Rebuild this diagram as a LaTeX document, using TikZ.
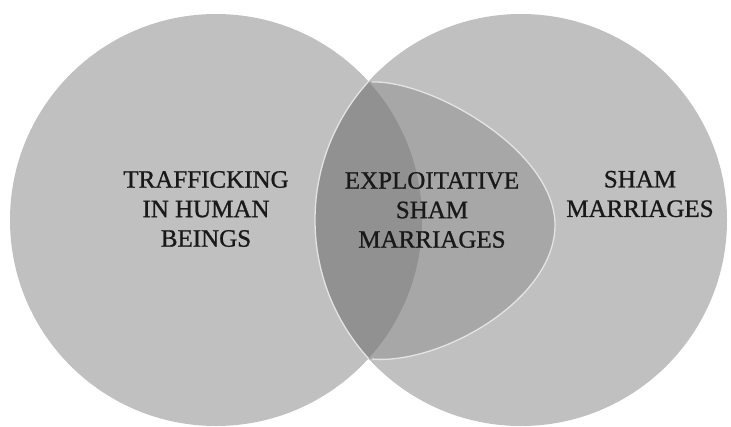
\documentclass[tikz,border=0pt]{standalone}
\usepackage{fontspec}
\setmainfont{Liberation Serif}[BoldFont=Liberation Serif, BoldFeatures={FakeBold=0.9}]
\usetikzlibrary{positioning}

% outline of the inner set (its left side is cut by the right circle)
\newcommand{\innerset}{(372,82) .. controls (430,80) and (555,150) .. (555,225)
	.. controls (555,300) and (440,365) .. (372,359) -- (300,359) -- (300,82) -- cycle}

\begin{document}
\begin{tikzpicture}[x=1pt, y=-1pt,
	setlabel/.style={align=center, text=textgrey, inner sep=0pt, font=\fontsize{25}{29.5}\selectfont\bfseries}]
					% Define grey shades for the sets
					\definecolor{setgrey}{RGB}{192,192,192}    % Light grey
					\definecolor{innergrey}{RGB}{167,167,167}  % Medium grey
					\definecolor{bothgrey}{RGB}{145,145,145}   % Dark grey
					\definecolor{rimgrey}{RGB}{228,228,228}    % Thin rim
					\definecolor{textgrey}{RGB}{25,25,25}

					% Canvas
					\fill[white] (0,0) rectangle (731,421);

					% Outer sets
					\fill[setgrey] (216,220) circle[radius=206pt];
					\fill[setgrey] (521,220) circle[radius=206pt];

					% Inner set
					\begin{scope}
						\clip (521,220) circle[radius=206pt];
						\fill[innergrey] \innerset;
						\clip (216,220) circle[radius=206pt];
						\fill[bothgrey] \innerset;
					\end{scope}

					% Rim of the inner set
					\draw[rimgrey, line width=1.3pt] (372,82) .. controls (430,80) and (555,150) .. (555,225)
						.. controls (555,300) and (440,365) .. (372,359);
					\begin{scope}
						\clip (216,220) circle[radius=206pt];
						\draw[rimgrey, line width=1.3pt] (521,220) circle[radius=206pt];
					\end{scope}

					% Labels
					\node[setlabel] (traffic) at (206,209) {TRAFFICKING\\IN HUMAN\\BEINGS};
					\node[setlabel] (exploit) at (432,210) {EXPLOITATIVE\\SHAM\\MARRIAGES};
					\node[setlabel] (sham) at (640,194) {SHAM\\MARRIAGES};

				\end{tikzpicture}
\end{document}
